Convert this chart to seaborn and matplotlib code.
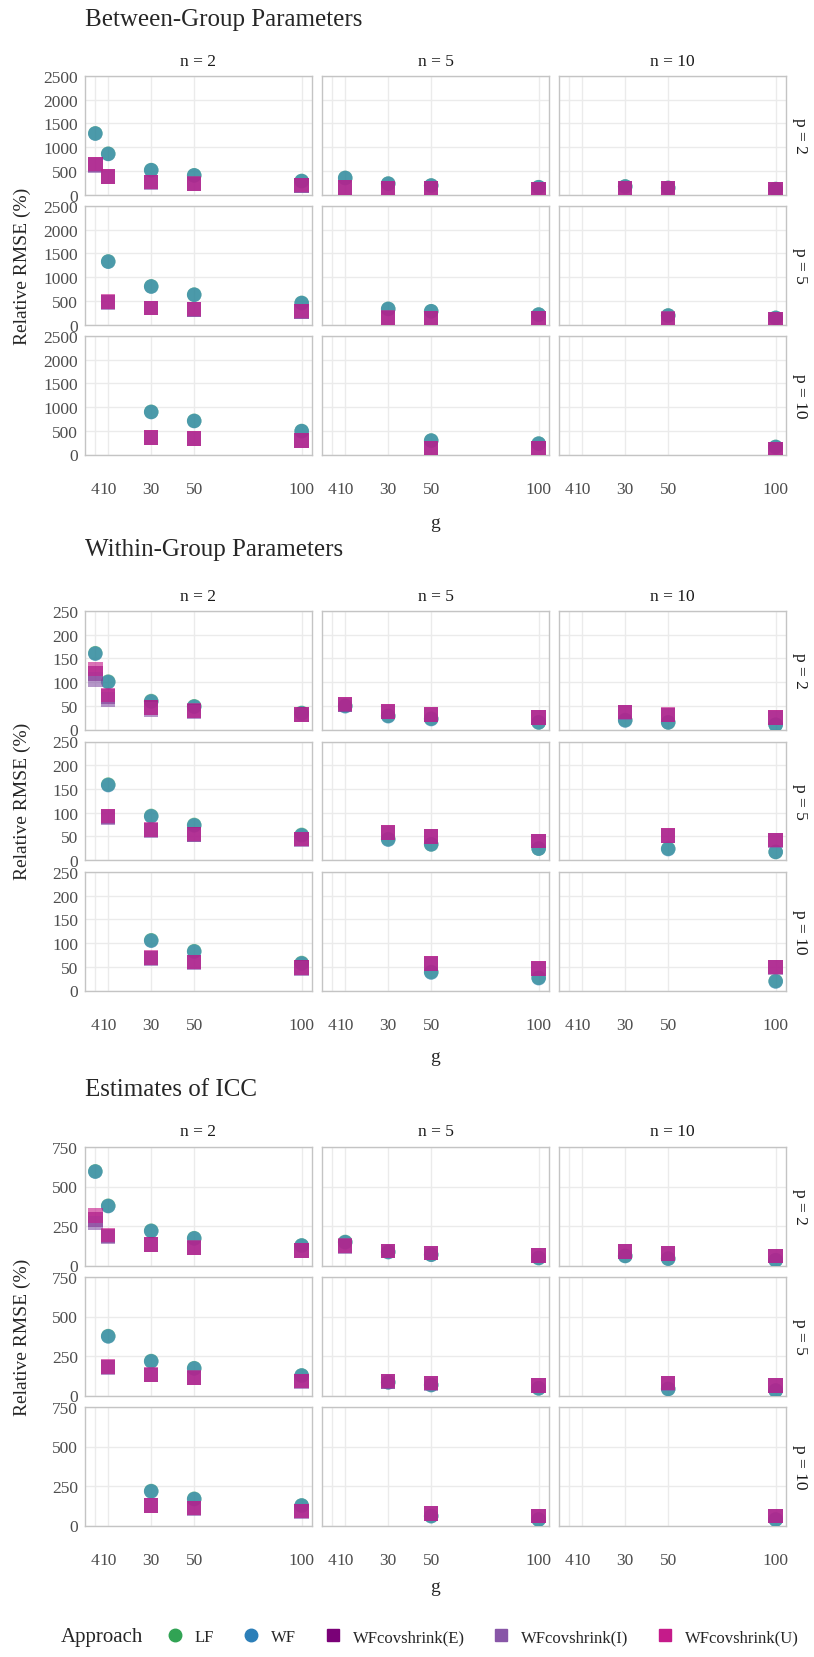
import numpy as np
import pandas as pd
import matplotlib
matplotlib.use("Agg")
import matplotlib.pyplot as plt
import seaborn as sns

nan = np.nan

# x values and facet levels
g_levels = [4, 10, 30, 50, 100]
p_levels = [2, 5, 10]
n_levels = [2, 5, 10]
approaches = ["LF", "WF", "WFcovshrink(E)", "WFcovshrink(I)", "WFcovshrink(U)"]

# relative RMSE (%), indexed [p][n][g]
between_lf = [
    [[1290, 860, 515, 405, 285], [nan, 350, 230, 190, 155], [nan, nan, 170, 140, 115]],
    [[nan, 1330, 805, 630, 455], [nan, nan, 330, 280, 210], [nan, nan, nan, 190, 140]],
    [[nan, nan, 900, 710, 495], [nan, nan, nan, 295, 230], [nan, nan, nan, nan, 160]],
]
between_wf = [
    [[1285, 855, 512, 402, 283], [nan, 348, 228, 188, 153], [nan, nan, 168, 138, 114]],
    [[nan, 1325, 800, 627, 452], [nan, nan, 328, 278, 208], [nan, nan, nan, 188, 139]],
    [[nan, nan, 896, 706, 492], [nan, nan, nan, 292, 228], [nan, nan, nan, nan, 158]],
]
between_e = [
    [[630, 375, 260, 225, 195], [nan, 145, 127, 125, 118], [nan, nan, 125, 122, 112]],
    [[nan, 477, 350, 322, 280], [nan, nan, 141, 134, 125], [nan, nan, nan, 120, 106]],
    [[nan, nan, 353, 332, 297], [nan, nan, nan, 140, 127], [nan, nan, nan, nan, 118]],
]
between_i = [
    [[615, 365, 255, 222, 193], [nan, 143, 126, 124, 117], [nan, nan, 124, 121, 111]],
    [[nan, 470, 346, 320, 278], [nan, nan, 140, 133, 124], [nan, nan, nan, 119, 105]],
    [[nan, nan, 350, 330, 295], [nan, nan, nan, 139, 126], [nan, nan, nan, nan, 117]],
]
between_u = [
    [[640, 380, 262, 227, 196], [nan, 146, 128, 126, 119], [nan, nan, 126, 123, 113]],
    [[nan, 480, 352, 324, 282], [nan, nan, 142, 135, 126], [nan, nan, nan, 121, 107]],
    [[nan, nan, 355, 334, 298], [nan, nan, nan, 141, 128], [nan, nan, nan, nan, 119]],
]

within_lf = [
    [[161, 101, 60, 49, 35], [nan, 50, 29, 23, 15], [nan, nan, 20, 15, 10]],
    [[nan, 159, 93, 74, 53], [nan, nan, 44, 33, 24], [nan, nan, nan, 24, 17]],
    [[nan, nan, 106, 83, 58], [nan, nan, nan, 39, 27], [nan, nan, nan, nan, 20]],
]
within_wf = [
    [[160, 100, 59, 48, 34], [nan, 49, 28, 22, 15], [nan, nan, 19, 15, 10]],
    [[nan, 158, 92, 73, 52], [nan, nan, 43, 33, 24], [nan, nan, nan, 23, 17]],
    [[nan, nan, 105, 82, 57], [nan, nan, nan, 38, 26], [nan, nan, nan, nan, 19]],
]
within_e = [
    [[118, 70, 46, 39, 32], [nan, 53, 38, 32, 25], [nan, nan, 37, 31, 25]],
    [[nan, 92, 63, 54, 44], [nan, nan, 58, 50, 40], [nan, nan, nan, 52, 42]],
    [[nan, nan, 69, 60, 48], [nan, nan, nan, 57, 46], [nan, nan, nan, nan, 50]],
]
within_i = [
    [[105, 63, 42, 37, 31], [nan, 52, 37, 31, 25], [nan, nan, 36, 31, 24]],
    [[nan, 90, 62, 53, 43], [nan, nan, 57, 49, 40], [nan, nan, nan, 51, 41]],
    [[nan, nan, 68, 59, 47], [nan, nan, nan, 56, 45], [nan, nan, nan, nan, 49]],
]
within_u = [
    [[128, 73, 47, 40, 32], [nan, 54, 38, 32, 25], [nan, nan, 37, 32, 25]],
    [[nan, 93, 64, 55, 44], [nan, nan, 58, 50, 40], [nan, nan, nan, 52, 42]],
    [[nan, nan, 70, 60, 48], [nan, nan, nan, 57, 46], [nan, nan, nan, nan, 50]],
]

icc_lf = [
    [[596, 378, 220, 173, 127], [nan, 149, 86, 69, 48], [nan, nan, 61, 44, 34]],
    [[nan, 376, 218, 173, 127], [nan, nan, 84, 67, 46], [nan, nan, nan, 42, 32]],
    [[nan, nan, 218, 169, 127], [nan, nan, nan, 60, 38], [nan, nan, nan, nan, 38]],
]
icc_wf = [
    [[594, 376, 218, 171, 126], [nan, 147, 85, 68, 47], [nan, nan, 60, 43, 33]],
    [[nan, 374, 216, 171, 126], [nan, nan, 83, 66, 45], [nan, nan, nan, 41, 31]],
    [[nan, nan, 216, 167, 126], [nan, nan, nan, 59, 37], [nan, nan, nan, nan, 37]],
]
icc_e = [
    [[290, 188, 133, 112, 95], [nan, 124, 92, 80, 65], [nan, nan, 90, 76, 61]],
    [[nan, 180, 131, 112, 91], [nan, nan, 90, 78, 63], [nan, nan, nan, 78, 63]],
    [[nan, nan, 127, 110, 91], [nan, nan, nan, 76, 60], [nan, nan, nan, nan, 60]],
]
icc_i = [
    [[268, 180, 130, 110, 94], [nan, 122, 91, 79, 64], [nan, nan, 89, 75, 60]],
    [[nan, 176, 129, 111, 90], [nan, nan, 89, 77, 62], [nan, nan, nan, 77, 62]],
    [[nan, nan, 125, 109, 90], [nan, nan, nan, 75, 59], [nan, nan, nan, nan, 59]],
]
icc_u = [
    [[315, 192, 134, 113, 95], [nan, 125, 92, 80, 65], [nan, nan, 90, 76, 61]],
    [[nan, 182, 132, 113, 92], [nan, nan, 91, 79, 64], [nan, nan, nan, 79, 64]],
    [[nan, nan, 128, 111, 92], [nan, nan, nan, 77, 61], [nan, nan, nan, nan, 61]],
]

section_titles = ["Between-Group Parameters", "Within-Group Parameters", "Estimates of ICC"]
section_yticks = [[0, 500, 1000, 1500, 2000, 2500], [0, 50, 100, 150, 200, 250], [0, 250, 500, 750]]

palette = {"LF": "#31A354", "WF": "#2C7FB8", "WFcovshrink(E)": "#7A0177",
           "WFcovshrink(I)": "#8856A7", "WFcovshrink(U)": "#C51B8A"}
markers = {"LF": "o", "WF": "o", "WFcovshrink(E)": "s",
           "WFcovshrink(I)": "s", "WFcovshrink(U)": "s"}


def to_long(series_list):
    rows = []
    for appr, arr in zip(approaches, series_list):
        for pi, p in enumerate(p_levels):
            for ni, n in enumerate(n_levels):
                for gi, g in enumerate(g_levels):
                    v = arr[pi][ni][gi]
                    if not np.isnan(v):
                        rows.append({"p": p, "n": n, "g": g, "Approach": appr, "rmse": v})
    return pd.DataFrame(rows)


sections = [
    to_long([between_lf, between_wf, between_e, between_i, between_u]),
    to_long([within_lf, within_wf, within_e, within_i, within_u]),
    to_long([icc_lf, icc_wf, icc_e, icc_i, icc_u]),
]

sns.set_style("white")
plt.rcParams["font.family"] = ["Liberation Serif", "DejaVu Serif"]

W, H = 814, 1658
fig = plt.figure(figsize=(W / 100, H / 100), dpi=100)

col_left = [85, 322, 559]
panel_w = 227
panel_h = 118.5
row_tops = [[77, 207, 337], [612, 742.5, 873], [1148, 1278, 1408]]
title_y = [20, 550, 1090]
strip_y = [62, 597, 1132]
glab_y = [523, 1057, 1588]


def fx(px):
    return px / W


def fy(py):
    return 1 - py / H


for si, df in enumerate(sections):
    yt = section_yticks[si]
    for pi, p in enumerate(p_levels):
        for ni, n in enumerate(n_levels):
            top = row_tops[si][pi]
            ax = fig.add_axes([fx(col_left[ni]), fy(top + panel_h), panel_w / W, panel_h / H])
            sub = df[(df["p"] == p) & (df["n"] == n)]
            sns.scatterplot(data=sub, x="g", y="rmse", hue="Approach", style="Approach",
                            hue_order=approaches, style_order=approaches,
                            palette=palette, markers=markers, s=110, alpha=0.62,
                            linewidth=0, legend=False, ax=ax, zorder=3)
            ax.set_xlim(-0.8, 104.8)
            ax.set_ylim(yt[0], yt[-1])
            ax.set_xticks(g_levels)
            ax.set_yticks(yt)
            ax.grid(True, color="#EBEBEB", linewidth=1.0, zorder=0)
            ax.set_axisbelow(True)
            for sp in ax.spines.values():
                sp.set_color("#C4C4C4")
                sp.set_linewidth(1.0)
            ax.set_xlabel("")
            ax.set_ylabel("")
            ax.tick_params(length=0, labelsize=12.5, labelcolor="#4D4D4D")
            ax.tick_params(axis="x", pad=19)
            ax.tick_params(axis="y", pad=5)
            if ni != 0:
                ax.set_yticklabels([])
            if pi != 2:
                ax.set_xticklabels([])
            if pi == 0:
                fig.text(fx(col_left[ni] + panel_w / 2), fy(strip_y[si]), f"n = {n}",
                         ha="center", va="center", fontsize=12.5, color="#1A1A1A")
            if ni == 2:
                fig.text(fx(800), fy(top + panel_h / 2), f"p = {p}", rotation=-90,
                         ha="center", va="center", fontsize=12.5, color="#1A1A1A")

    fig.text(fx(85), fy(title_y[si]), section_titles[si], ha="left", va="center", fontsize=18)
    mid = (row_tops[si][0] + row_tops[si][2] + panel_h) / 2
    fig.text(fx(22), fy(mid), "Relative RMSE (%)", rotation=90, ha="center", va="center", fontsize=14)
    fig.text(fx(435), fy(glab_y[si]), "g", ha="center", va="center", fontsize=14)

# legend at bottom
handles = [plt.Line2D([], [], marker=markers[a], color=palette[a], linestyle="",
                      markersize=9) for a in approaches]
fig.text(fx(61), fy(1638), "Approach", ha="left", va="center", fontsize=15)
fig.legend(handles, approaches, ncol=5, loc="center left", frameon=False,
           bbox_to_anchor=(fx(150), fy(1638)), fontsize=12,
           handletextpad=0.6, columnspacing=1.6, handlelength=1.2)

fig.savefig("out.png", dpi=100)
